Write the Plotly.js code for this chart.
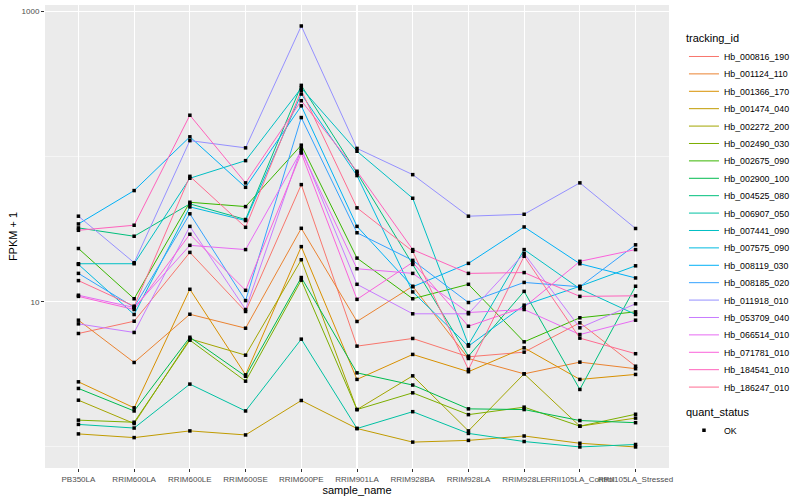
<!DOCTYPE html>
<html>
<head>
<meta charset="utf-8">
<script src="https://cdn.plot.ly/plotly-3.0.1.min.js"></script>
<style>html,body{margin:0;padding:0;background:#fff;}#chart{width:800px;height:500px;}</style>
</head>
<body>
<div id="chart"></div>
<script>
// x-axis categories
const samples = ["PB350LA","RRIM600LA","RRIM600LE","RRIM600SE","RRIM600PE","RRIM901LA","RRIM928BA","RRIM928LA","RRIM928LE","RRII105LA_Control","RRII105LA_Stressed"];

// tracking ids (legend labels)
const trackingIds = ["Hb_000816_190","Hb_001124_110","Hb_001366_170","Hb_001474_040","Hb_002272_200","Hb_002490_030","Hb_002675_090","Hb_002900_100","Hb_004525_080","Hb_006907_050","Hb_007441_090","Hb_007575_090","Hb_008119_030","Hb_008185_020","Hb_011918_010","Hb_053709_040","Hb_066514_010","Hb_071781_010","Hb_184541_010","Hb_186247_010"];

// FPKM + 1 values per tracking id, in sample order
const hb_000816_190 = [6.05, 7.35, 21.9, 8.58, 64.2, 4.95, 5.59, 4.18, 4.50, 7.17, 3.60];
const hb_001124_110 = [7.47, 3.82, 8.21, 6.58, 32.1, 7.32, 12.8, 4.07, 3.19, 3.84, 3.46];
const hb_001366_170 = [2.81, 1.86, 12.2, 3.14, 24.0, 2.92, 4.34, 3.30, 4.82, 2.92, 3.16];
const hb_001474_040 = [1.23, 1.16, 1.29, 1.21, 2.09, 1.34, 1.08, 1.11, 1.19, 1.06, 1.00];
const hb_002272_200 = [2.10, 1.45, 5.56, 4.29, 19.5, 1.81, 3.09, 1.29, 3.19, 1.39, 1.58];
const hb_002490_030 = [1.53, 1.48, 5.44, 2.84, 14.1, 1.81, 2.36, 1.67, 1.88, 1.39, 1.68];
const hb_002675_090 = [23.3, 10.5, 48.5, 45.3, 120, 20.0, 10.5, 13.2, 5.30, 7.76, 8.53];
const hb_002900_100 = [2.53, 1.77, 5.70, 3.07, 14.7, 3.24, 2.67, 1.83, 1.81, 1.52, 1.47];
const hb_004525_080 = [32.3, 28.3, 47.3, 36.9, 310, 77.3, 18.1, 4.22, 11.8, 2.49, 12.8];
const hb_006907_050 = [1.43, 1.35, 2.71, 1.77, 5.53, 1.34, 1.75, 1.24, 1.09, 1.00, 1.04];
const hb_007441_090 = [18.3, 18.3, 71.0, 93.9, 297, 109, 51.7, 5.06, 22.9, 12.3, 8.18];
const hb_007575_090 = [18.1, 8.18, 45.1, 36.3, 270, 74.1, 11.7, 4.95, 9.48, 12.8, 17.7];
const hb_008119_030 = [34.4, 58.4, 137, 61.5, 224, 33.1, 12.7, 18.4, 32.8, 18.3, 14.6];
const hb_008185_020 = [15.7, 9.18, 40.4, 10.2, 186, 29.9, 19.3, 9.89, 13.6, 12.7, 24.7];
const hb_011918_010 = [38.9, 18.6, 129, 115, 795, 114, 75.2, 38.9, 40.1, 66.0, 32.0];
const hb_053709_040 = [7.05, 6.15, 33.1, 8.85, 114, 13.2, 8.27, 8.27, 21.5, 6.62, 9.69];
const hb_066514_010 = [11.1, 9.14, 24.5, 22.9, 110, 16.9, 15.7, 8.44, 8.85, 5.95, 7.47];
const hb_071781_010 = [10.9, 8.85, 29.2, 12.0, 106, 10.4, 18.7, 6.79, 9.18, 19.0, 22.9];
const hb_184541_010 = [31.1, 33.7, 193, 66.0, 243, 79.3, 22.9, 15.7, 15.9, 10.9, 11.0];
const hb_186247_010 = [14.0, 9.33, 73.2, 32.6, 286, 44.4, 22.3, 3.42, 20.6, 5.62, 4.39];

const seriesValues = [hb_000816_190, hb_001124_110, hb_001366_170, hb_001474_040, hb_002272_200,
  hb_002490_030, hb_002675_090, hb_002900_100, hb_004525_080, hb_006907_050, hb_007441_090,
  hb_007575_090, hb_008119_030, hb_008185_020, hb_011918_010, hb_053709_040, hb_066514_010,
  hb_071781_010, hb_184541_010, hb_186247_010];

// ggplot2 default hue palette for 20 levels
const palette = ["#F8766D","#EA8331","#D89000","#C09B00","#A3A500","#7CAE00","#39B600","#00BB4E","#00BF7D","#00C1A3","#00BFC4","#00BAE0","#00B0F6","#35A2FF","#9590FF","#C77CFF","#E76BF3","#FA62DB","#FF62BC","#FF6C91"];

const FONT = "Liberation Sans, Arial, sans-serif";

const traces = trackingIds.map((id, i) => ({
  type: "scatter", mode: "lines", name: id,
  x: samples, y: seriesValues[i],
  line: {color: palette[i], width: 1},
  legend: "legend", hoverinfo: "skip"
}));

const ptsX = [], ptsY = [];
seriesValues.forEach(vals => vals.forEach((v, j) => { ptsX.push(samples[j]); ptsY.push(v); }));
traces.push({
  type: "scatter", mode: "markers", name: "OK",
  x: ptsX, y: ptsY,
  marker: {color: "#000000", symbol: "square", size: 3.5},
  legend: "legend2", hoverinfo: "skip"
});

const layout = {
  width: 800, height: 500,
  margin: {l: 45, r: 117, t: 5, b: 32, pad: 0},
  paper_bgcolor: "#FFFFFF",
  plot_bgcolor: "#EBEBEB",
  font: {family: FONT, size: 8, color: "#000000"},
  showlegend: true,
  xaxis: {
    type: "category", categoryorder: "array", categoryarray: samples,
    range: [-0.6, 10.6], autorange: false,
    showgrid: true, gridcolor: "#FFFFFF", gridwidth: 1.1,
    zeroline: false, showline: false,
    ticks: "outside", ticklen: 3, tickcolor: "#333333", tickwidth: 1,
    tickangle: 0,
    tickfont: {family: FONT, size: 8, color: "#4D4D4D"},
    title: {text: "sample_name", font: {family: FONT, size: 11, color: "#000000"}, standoff: 0},
    automargin: false
  },
  yaxis: {
    type: "log", range: [-0.145, 3.045], autorange: false,
    tickmode: "array", tickvals: [10, 1000], ticktext: ["10", "1000"],
    showgrid: true, gridcolor: "#FFFFFF", gridwidth: 1.1,
    minor: {tickmode: "array", tickvals: [1, 100], showgrid: true, gridcolor: "#FFFFFF", gridwidth: 0.5, ticks: ""},
    zeroline: false, showline: false,
    ticks: "outside", ticklen: 3, tickcolor: "#333333", tickwidth: 1,
    tickfont: {family: FONT, size: 8, color: "#4D4D4D"},
    title: {text: "FPKM + 1", font: {family: FONT, size: 11, color: "#000000"}, standoff: 1},
    automargin: false
  },
  legend: {
    title: {text: "tracking_id", font: {family: FONT, size: 11, color: "#000000"}},
    x: 1.024, xanchor: "left", y: 0.951, yanchor: "top",
    bgcolor: "rgba(0,0,0,0)", borderwidth: 0,
    font: {family: FONT, size: 8.8, color: "#000000"},
    itemwidth: 30, tracegroupgap: 0
  },
  legend2: {
    title: {text: "quant_status", font: {family: FONT, size: 11, color: "#000000"}},
    x: 1.024, xanchor: "left", y: 0.1436, yanchor: "top",
    bgcolor: "rgba(0,0,0,0)", borderwidth: 0,
    font: {family: FONT, size: 8.8, color: "#000000"},
    itemwidth: 30
  }
};

// tighten legend rows to the reference's spacing
function tightenLegend() {
  const items = document.querySelectorAll("g.legend g.traces");
  if (!items.length) return;
  const m = /translate\(\s*([-\d.]+)[ ,]+([-\d.]+)\s*\)/.exec(items[0].getAttribute("transform") || "");
  if (!m) return;
  const x0 = parseFloat(m[1]), y0 = parseFloat(m[2]);
  items.forEach((el, i) => el.setAttribute("transform", "translate(" + x0 + "," + (y0 + i * 17.4) + ")"));
}

Plotly.newPlot("chart", traces, layout, {staticPlot: true, displayModeBar: false}).then(tightenLegend);
</script>
</body>
</html>
